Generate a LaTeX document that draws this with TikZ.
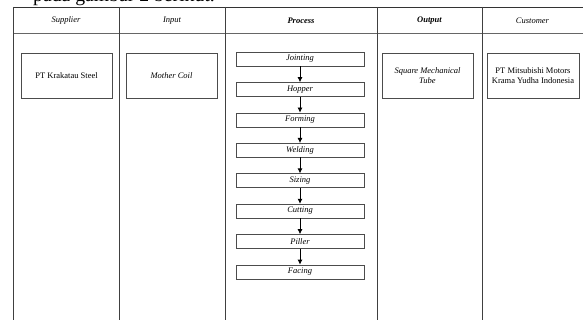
\documentclass[tikz,border=0pt]{standalone}
\usepackage{fontspec}
\setmainfont{Liberation Serif}
\usetikzlibrary{positioning,arrows.meta}

\begin{document}
\begin{tikzpicture}[x=1pt,y=-1pt,
    cell/.style={draw=black!70,minimum width=91pt,minimum height=45pt,inner sep=1pt,align=center,font=\fontsize{8.5}{10.5}\selectfont},
    stepbox/.style={draw=black!70,minimum width=128pt,minimum height=14pt,inner sep=0pt,font=\fontsize{8.5}{10}\selectfont\itshape},
    head/.style={font=\fontsize{8.5}{10}\selectfont\itshape}]
    \useasboundingbox (0,0) rectangle (583,320);
    \clip (0,0) rectangle (583,320);
    \node [anchor=base west,inner sep=0pt,font=\fontsize{19.7}{22}\selectfont] (caption) at (33,1.5) {pada gambar 2 berikut.};
    % table
    \draw [black!80,line width=0.8pt] (13,7) -- (583,7);
    \draw [black!60,line width=1pt] (13,34) -- (583,34);
    \foreach \x in {13,119,225,377,482}
        \draw [black!75,line width=0.8pt] (\x,7) -- (\x,320);
    \node [head] (hsupplier) at (66,20.5) {Supplier};
    \node [head] (hinput) at (172,20.5) {Input};
    \node [head,font=\fontsize{8.5}{10}\selectfont\bfseries\itshape] (hprocess) at (301,20.5) {Process};
    \node [head,font=\fontsize{8.5}{10}\selectfont\bfseries\itshape] (houtput) at (429.5,20.5) {Output};
    \node [head] (hcustomer) at (532.5,20.5) {Customer};
    % cells
    \node [cell] (supplier) at (66.5,75.5) {PT Krakatau Steel};
    \node [cell,font=\fontsize{8.5}{10.5}\selectfont\itshape] (input) at (171.5,75.5) {Mother Coil};
    \node [cell,font=\fontsize{8.5}{10.5}\selectfont\itshape] (output) at (427.5,75.5) {Square Mechanical\\Tube};
    \node [cell,minimum width=92pt,inner sep=0pt] (customer) at (533,75.5) {PT Mitsubishi Motors\\Krama Yudha Indonesia};
    % process
    \node [stepbox] (jointing) at (300,59) {Jointing};
    \node [stepbox,below=16pt of jointing] (hopper) {Hopper};
    \node [stepbox,below=16pt of hopper] (forming) {Forming};
    \node [stepbox,below=16pt of forming] (welding) {Welding};
    \node [stepbox,below=16pt of welding] (sizing) {Sizing};
    \node [stepbox,below=16pt of sizing] (cutting) {Cutting};
    \node [stepbox,below=16pt of cutting] (piller) {Piller};
    \node [stepbox,below=16pt of piller] (facing) {Facing};
    \foreach \a/\b in {jointing/hopper,hopper/forming,forming/welding,welding/sizing,sizing/cutting,cutting/piller,piller/facing}
        \draw [-{Latex[length=5pt,width=5pt]},line width=0.8pt] (\a) -- (\b);
\end{tikzpicture}
\end{document}
